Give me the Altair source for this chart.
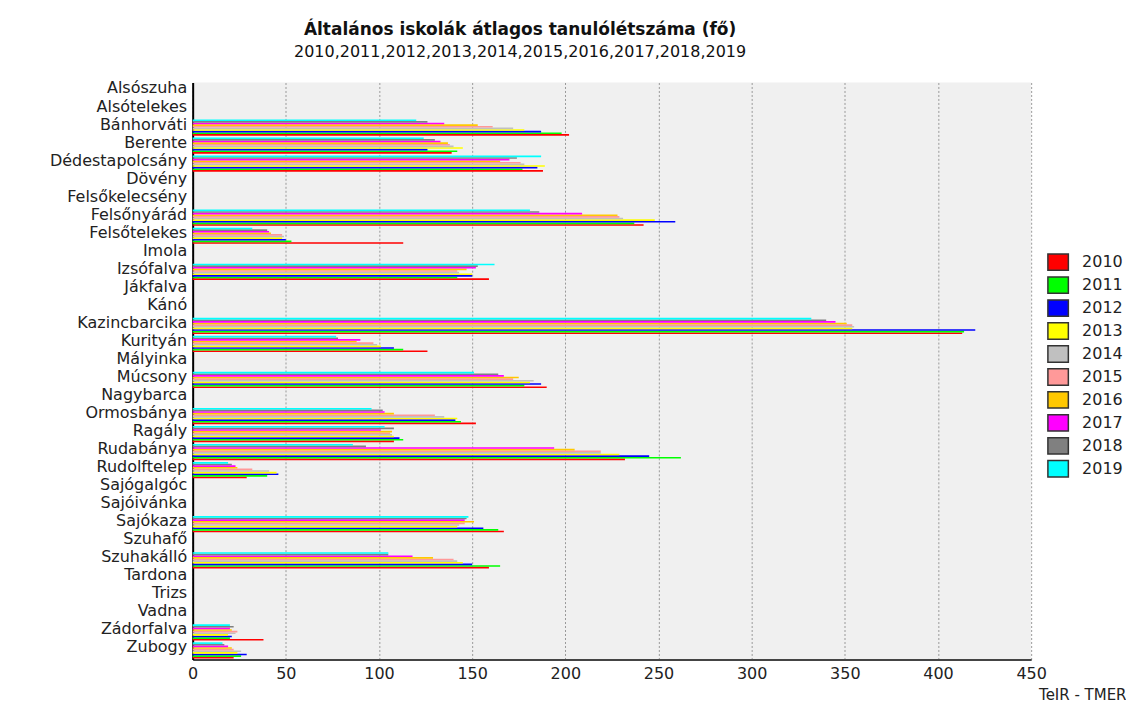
import altair as alt
import pandas as pd

categories = [
    "Alsószuha", "Alsótelekes", "Bánhorváti", "Berente", "Dédestapolcsány",
    "Dövény", "Felsőkelecsény", "Felsőnyárád", "Felsőtelekes", "Imola",
    "Izsófalva", "Jákfalva", "Kánó", "Kazincbarcika", "Kurityán", "Mályinka",
    "Múcsony", "Nagybarca", "Ormosbánya", "Ragály", "Rudabánya", "Rudolftelep",
    "Sajógalgóc", "Sajóivánka", "Sajókaza", "Szuhafő", "Szuhakálló", "Tardona",
    "Trizs", "Vadna", "Zádorfalva", "Zubogy",
]

years = ["2010", "2011", "2012", "2013", "2014", "2015", "2016", "2017", "2018", "2019"]
colors = ["#ff0000", "#00ff00", "#0000ff", "#ffff00", "#c0c0c0",
          "#ff9999", "#ffc800", "#ff00ff", "#808080", "#00ffff"]

N = None
#        Als  Alt  Bán  Ber  Déd  Döv Fkl  Fny  Fte  Imo Izs  Ják Kán Kaz  Kur  Mál Múc  Nag Orm  Rag  Rud  Rtp Sgg Siv Skz  Szf Szk  Tar Tri Vad Zád Zub
v2010 = [N, N, 202, 139, 188, N, N, 242, 113, N, 159, N, N, 413, 126, N, 190, N, 152, 108, 232, 29, N, N, 167, N, 159, N, N, N, 38, 22]
v2011 = [N, N, 198, 142, 177, N, N, 237, 53, N, 142, N, N, 414, 113, N, 178, N, 144, 113, 262, 40, N, N, 164, N, 165, N, N, N, 20, 26]
v2012 = [N, N, 187, 126, 185, N, N, 259, 50, N, 150, N, N, 420, 108, N, 187, N, 141, 111, 245, 46, N, N, 156, N, 150, N, N, N, 21, 29]
v2013 = [N, N, 178, 145, 189, N, N, 248, 48, N, 150, N, N, 354, 101, N, 181, N, 142, 108, 229, 45, N, N, 142, N, 145, N, N, N, 19, 24]
v2014 = [N, N, 172, 140, 178, N, N, 231, 49, N, 143, N, N, 355, 99, N, 183, N, 135, 107, 219, 41, N, N, 143, N, 142, N, N, N, 23, 26]
v2015 = [N, N, 161, 138, 176, N, N, 229, 48, N, 142, N, N, 354, 97, N, 172, N, 130, 106, 219, 32, N, N, 146, N, 140, N, N, N, 24, 22]
v2016 = [N, N, 153, 137, 165, N, N, 228, 42, N, 147, N, N, 351, 88, N, 175, N, 108, 107, 205, 24, N, N, 151, N, 129, N, N, N, 21, 21]
v2017 = [N, N, 135, 133, 170, N, N, 209, 41, N, 152, N, N, 345, 90, N, 167, N, 103, 101, 194, 23, N, N, 146, N, 118, N, N, N, 20, 19]
v2018 = [N, N, 126, 130, 174, N, N, 186, 40, N, 153, N, N, 340, 78, N, 164, N, 102, 108, 93, 21, N, N, 147, N, 105, N, N, N, 22, 17]
v2019 = [N, N, 120, 124, 187, N, N, 181, 32, N, 162, N, N, 332, 77, N, 151, N, 96, 103, 86, 19, N, N, 148, N, 105, N, N, N, 20, 16]

series = [v2010, v2011, v2012, v2013, v2014, v2015, v2016, v2017, v2018, v2019]

rows = []
for yr, vals in zip(years, series):
    for cat, v in zip(categories, vals):
        if v is not None:
            rows.append({"telepules": cat, "ev": yr, "ertek": v})
df = pd.DataFrame(rows)

FONT = "DejaVu Sans"

chart = alt.Chart(df).mark_bar().encode(
    y=alt.Y(
        "telepules:N",
        scale=alt.Scale(domain=categories, paddingInner=0.1, paddingOuter=0.05),
        axis=alt.Axis(
            title=None, ticks=False, grid=False, labelFont=FONT, labelFontSize=16,
            labelColor="#222", domainColor="#000", domainWidth=2, labelOffset=-3,
            labelPadding=6, minExtent=180, maxExtent=180, labelLimit=0,
        ),
    ),
    x=alt.X(
        "ertek:Q",
        scale=alt.Scale(domain=[0, 450], nice=False),
        axis=alt.Axis(
            values=list(range(0, 451, 50)), title="TeIR - TMER", titleX=935, titleY=35,
            titleAlign="right", titleBaseline="middle", titleFontWeight="normal",
            titleFontSize=15, titleFont=FONT, titleColor="#222",
            grid=True, gridDash=[2, 2], gridColor="#999", gridWidth=1,
            ticks=False, labelPadding=6, labelFont=FONT, labelFontSize=16,
            labelColor="#222", domainColor="#444", domainWidth=2, labelFlush=False,
        ),
    ),
    yOffset=alt.YOffset("ev:N", scale=alt.Scale(domain=years[::-1], paddingInner=0, paddingOuter=0)),
    color=alt.Color(
        "ev:N",
        scale=alt.Scale(domain=years, range=colors),
        legend=alt.Legend(
            title=None, orient="none", legendX=856, legendY=169,
            symbolType="M-1,-0.8H1V0.8H-1Z", symbolSize=420,
            symbolStrokeColor="#333", symbolStrokeWidth=1.5, symbolOpacity=1,
            labelFont=FONT, labelFontSize=16, labelColor="#222", labelOffset=13,
            rowPadding=-2.2, padding=0,
        ),
    ),
).properties(
    width=840,
    height=578,
    padding={"left": 5, "top": 12, "right": 0, "bottom": 0},
    title=alt.TitleParams(
        text="Általános iskolák átlagos tanulólétszáma (fő)",
        subtitle="2010,2011,2012,2013,2014,2015,2016,2017,2018,2019",
        anchor="middle", dx=-92, font=FONT, fontSize=17, fontWeight="bold",
        color="#111", subtitleFont=FONT, subtitleFontSize=16, subtitleColor="#111",
        offset=19, subtitlePadding=5,
    ),
).configure_view(fill="#f0f0f0", strokeWidth=0)

chart.save("out.html", embed_options={"renderer": "svg", "actions": False})
